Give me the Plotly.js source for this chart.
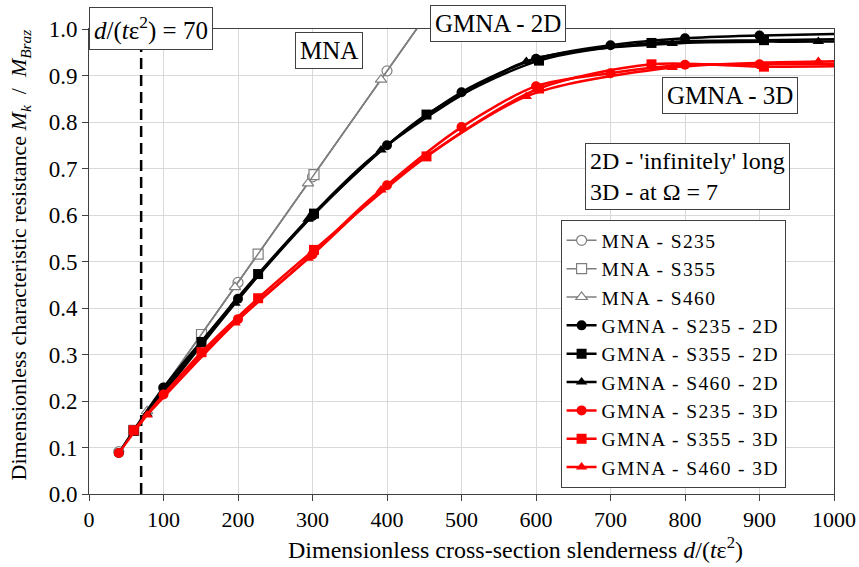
<!DOCTYPE html>
<html>
<head>
<meta charset="utf-8">
<script src="https://cdn.plot.ly/plotly-3.0.1.min.js"></script>
<style>
html,body{margin:0;padding:0;background:#fff;}
#chart{width:859px;height:567px;}
.legendtext{letter-spacing:1.4px;}
</style>
</head>
<body>
<div id="chart"></div>
<script>
// ---- data ----
const seriesNames = ['MNA - S235','MNA - S355','MNA - S460',
  'GMNA - S235 - 2D','GMNA - S355 - 2D','GMNA - S460 - 2D',
  'GMNA - S235 - 3D','GMNA - S355 - 3D','GMNA - S460 - 3D'];

const xS235 = [40,100,200,300,400,500,600,700,800,900,1100];
const xS355 = [60,151,227,302,453,604,755,906,1057];
const xS460 = [78,196,294,392,587,783,979,1174];

const mnaS235X = [40,100,200,300,400,500];
const mnaS235Y = [0.091,0.228,0.455,0.682,0.910,1.137];
const mnaS355X = [60,151,227,302,453];
const mnaS355Y = [0.137,0.343,0.516,0.687,1.030];
const mnaS460X = [78,196,294,392,587];
const mnaS460Y = [0.178,0.445,0.668,0.891,1.335];

const gmna2dS235 = [0.088,0.229,0.420,0.598,0.750,0.864,0.936,0.965,0.980,0.986,0.993];
const gmna2dS355 = [0.136,0.327,0.473,0.603,0.816,0.932,0.970,0.976,0.979];
const gmna2dS460 = [0.172,0.410,0.591,0.740,0.930,0.969,0.973,0.975];

const gmna3dS235 = [0.088,0.214,0.376,0.515,0.664,0.789,0.877,0.905,0.923,0.924,0.926];
const gmna3dS355 = [0.137,0.305,0.421,0.525,0.726,0.872,0.924,0.919,0.921];
const gmna3dS460 = [0.170,0.368,0.507,0.654,0.855,0.917,0.930,0.932];

const limitX = [70,70];
const limitY = [0,1];

const xTicks = [0,100,200,300,400,500,600,700,800,900,1000];
const yTicks = [0,0.1,0.2,0.3,0.4,0.5,0.6,0.7,0.8,0.9,1.0];

// ---- styling ----
const FONT = "'Liberation Serif', 'Times New Roman', serif";
const GRAY = '#7f7f7f', BLACK = '#000000', RED = '#ff0000';

function mna(name, x, y, sym){
  return {x:x, y:y, name:name, type:'scatter', mode:'lines+markers',
    line:{color:GRAY, width:1.5, shape:'linear'},
    marker:{symbol:sym, size:10, color:'#ffffff', line:{color:GRAY, width:1.2}}, cliponaxis:true};
}
function gm(name, x, y, sym, col, size){
  return {x:x, y:y, name:name, type:'scatter', mode:'lines+markers',
    line:{color:col, width:2.5, shape:'spline', smoothing:0.8},
    marker:{symbol:sym, size:size, color:col}, cliponaxis:true};
}

const traces = [
  {x:limitX, y:limitY, type:'scatter', mode:'lines', showlegend:false, hoverinfo:'skip',
   line:{color:BLACK, width:2.5, dash:'11px,6px'}},
  mna(seriesNames[0], mnaS235X, mnaS235Y, 'circle'),
  mna(seriesNames[1], mnaS355X, mnaS355Y, 'square'),
  mna(seriesNames[2], mnaS460X, mnaS460Y, 'triangle-up'),
  gm(seriesNames[3], xS235, gmna2dS235, 'circle', BLACK, 10),
  gm(seriesNames[4], xS355, gmna2dS355, 'square', BLACK, 10),
  gm(seriesNames[5], xS460, gmna2dS460, 'triangle-up', BLACK, 10),
  gm(seriesNames[6], xS235, gmna3dS235, 'circle', RED, 10),
  gm(seriesNames[7], xS355, gmna3dS355, 'square', RED, 10),
  gm(seriesNames[8], xS460, gmna3dS460, 'triangle-up', RED, 10)
];

const boxAnn = {showarrow:false, bgcolor:'#ffffff', bordercolor:'#404040', borderwidth:1,
  borderpad:4, font:{family:FONT, size:25, color:'#000'}, xanchor:'center', yanchor:'middle'};

const layout = {
  width:859, height:567,
  margin:{l:89, r:25, t:29, b:73},
  paper_bgcolor:'#ffffff', plot_bgcolor:'#ffffff',
  font:{family:FONT, size:20, color:'#000'},
  showlegend:true,
  legend:{x:0.633, y:0.589, xanchor:'left', yanchor:'top',
    bgcolor:'#ffffff', bordercolor:'#404040', borderwidth:1,
    font:{family:FONT, size:19.5, color:'#000'}, itemwidth:30, tracegroupgap:0},
  xaxis:{range:[0,1000], tickvals:xTicks, ticktext:xTicks.map(String),
    showgrid:true, gridcolor:'#d9d9d9', gridwidth:1,
    showline:true, linecolor:'#404040', linewidth:1, mirror:true,
    ticks:'outside', ticklen:6, tickcolor:'#404040',
    zeroline:false, tickfont:{family:FONT, size:22, color:'#000'}},
  yaxis:{range:[0,1], tickvals:yTicks, tickformat:'.1f',
    showgrid:true, gridcolor:'#d9d9d9', gridwidth:1,
    showline:true, linecolor:'#404040', linewidth:1, mirror:true,
    ticks:'outside', ticklen:6, tickcolor:'#404040',
    zeroline:false, tickfont:{family:FONT, size:23, color:'#000'}},
  annotations:[
    Object.assign({}, boxAnn, {xref:'paper', yref:'paper', x:0.083, y:1.002,
      text:'<i>d</i>/(<i>t</i>ε<sup>2</sup>) = 70'}),
    Object.assign({}, boxAnn, {xref:'x', yref:'y', x:322, y:0.953, text:'MNA'}),
    Object.assign({}, boxAnn, {xref:'paper', yref:'paper', x:0.549, y:1.011, text:'GMNA - 2D'}),
    Object.assign({}, boxAnn, {xref:'x', yref:'y', x:860, y:0.858, text:'GMNA - 3D'}),
    Object.assign({}, boxAnn, {xref:'x', yref:'y', x:803, y:0.682, align:'left',
      font:{family:FONT, size:24, color:'#000'},
      text:"2D - 'infinitely' long<br>3D - at Ω = 7"}),
    {xref:'paper', yref:'paper', x:0.572, y:-0.116, xanchor:'center', yanchor:'middle', showarrow:false,
      font:{family:FONT, size:24, color:'#000'},
      text:'Dimensionless cross-section slenderness <i>d</i>/(<i>t</i>ε<sup>2</sup>)'},
    {xref:'paper', yref:'paper', x:-0.092, y:0.514, xanchor:'center', yanchor:'middle', showarrow:false, textangle:-90,
      font:{family:FONT, size:22, color:'#000'},
      text:'Dimensionless characteristic resistance <i>M<sub>k</sub></i>  /  <i>M<sub>Braz</sub></i>'}
  ]
};

Plotly.newPlot('chart', traces, layout, {staticPlot:true, displayModeBar:false});
</script>
</body>
</html>
